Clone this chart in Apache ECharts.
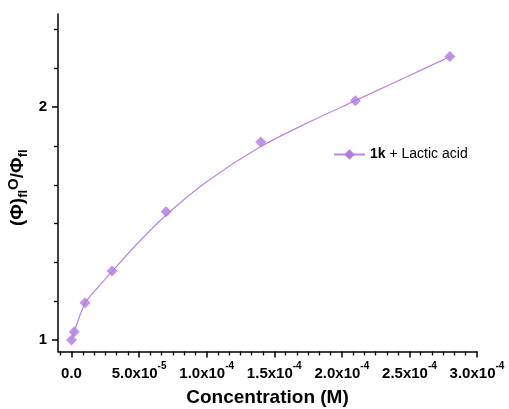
<!DOCTYPE html>
<html>
<head>
<meta charset="utf-8">
<script src="https://cdn.jsdelivr.net/npm/echarts@6/dist/echarts.min.js"></script>
<style>html,body{margin:0;padding:0;background:#fff}#c{width:509px;height:409px}</style>
</head>
<body>
<div id="c"></div>
<script>
// measured data (concentration in M, ratio)
var concX = [0, 2e-6, 1e-5, 3e-5, 7e-5, 1.4e-4, 2.1e-4, 2.8e-4];
var ratioY = [1.0, 1.036, 1.16, 1.297, 1.551, 1.85, 2.028, 2.217];
// fitted curve
var fitX = [0, 2e-6, 1e-5, 2e-5, 3e-5, 5e-5, 7e-5, 1e-4, 1.4e-4, 1.75e-4, 2.1e-4, 2.45e-4, 2.8e-4];
var fitY = [1.0, 1.036, 1.158, 1.229, 1.295, 1.422, 1.537, 1.68, 1.831, 1.934, 2.028, 2.122, 2.217];
// tick labels
var xTickVals = [0, 5e-5, 1e-4, 1.5e-4, 2e-4, 2.5e-4, 3e-4];
var xTickMant = ['0.0', '5.0', '1.0', '1.5', '2.0', '2.5', '3.0'];
var xTickExp = ['', '-5', '-4', '-4', '-4', '-4', '-4'];
var yTickVals = [1, 2];
var yTickText = ['1', '2'];

var FONT = 'Arial, "Liberation Sans", Helvetica, sans-serif';
var xMin = -1e-5, xMax = 3e-4, yMin = 0.951, yMax = 2.40;

var xMinor = [];
for (var i = -1; i <= 36; i++) { var v = i * 5e-5 / 6; if (v >= xMin && v <= xMax && i % 6 !== 0) xMinor.push(v); }
var yMinor = [];
for (var j = 0; j <= 12; j++) { var w = 1 + j / 6; if (w >= yMin && w <= yMax && j % 6 !== 0) yMinor.push(w); }

var pts = concX.map(function (x, k) { return [x, ratioY[k]]; });
var fit = fitX.map(function (x, k) { return [x, fitY[k]]; });

var axisLineStyle = { color: '#000', width: 1.5 };

var chart = echarts.init(document.getElementById('c'));
chart.setOption({
  animation: false,
  backgroundColor: '#fff',
  grid: { left: 58, right: 32, top: 14, bottom: 57.5, containLabel: false, outerBoundsMode: 'none' },
  legend: {
    left: 333, top: 147.5, padding: 0,
    itemWidth: 31, itemHeight: 13,
    data: ['1k + Lactic acid'],
    formatter: function () { return '{b|1k} + Lactic acid'; },
    textStyle: {
      fontFamily: FONT, fontSize: 14, color: '#000',
      rich: { b: { fontFamily: FONT, fontSize: 14, fontWeight: 'bold', color: '#000' } }
    }
  },
  xAxis: [{
    type: 'value', min: xMin, max: xMax,
    name: 'Concentration (M)', nameLocation: 'middle', nameGap: 37, nameMoveOverlap: false,
    nameTextStyle: { fontFamily: FONT, fontSize: 19, fontWeight: 'bold', color: '#000' },
    axisLine: { show: true, onZero: false, lineStyle: axisLineStyle },
    axisTick: { show: true, customValues: xTickVals, length: 6, lineStyle: { color: '#000', width: 1.5 } },
    splitLine: { show: false },
    axisLabel: {
      customValues: xTickVals, margin: 10, showMinLabel: true, showMaxLabel: true,
      formatter: function (v) {
        var k = xTickVals.findIndex(function (t) { return Math.abs(t - v) < 1e-12; });
        if (k < 0) return '';
        return xTickExp[k] ? '{m|' + xTickMant[k] + 'x10}{s|' + xTickExp[k] + '}' : '{m|' + xTickMant[k] + '}';
      },
      rich: {
        m: { fontFamily: FONT, fontSize: 15, fontWeight: 'bold', color: '#000', lineHeight: 20, verticalAlign: 'bottom' },
        s: { fontFamily: FONT, fontSize: 10, fontWeight: 'bold', color: '#000', lineHeight: 20, verticalAlign: 'top' }
      }
    }
  }, {
    type: 'value', min: xMin, max: xMax, position: 'bottom',
    axisLine: { show: false, onZero: false }, axisLabel: { show: false }, splitLine: { show: false },
    axisTick: { show: true, customValues: xMinor, length: 4, lineStyle: { color: '#000', width: 1.3 } }
  }],
  yAxis: [{
    type: 'value', min: yMin, max: yMax,
    name: '{m|(Φ)}{sb|fl}{sp|O}{m|/Φ}{sb|fl}', nameLocation: 'middle', nameGap: 28, nameRotate: 90,
    nameMoveOverlap: false,
    nameTextStyle: {
      color: '#000', padding: [0, 10, 0, 0],
      rich: {
        m: { fontFamily: FONT, fontSize: 19, fontWeight: 'bold', color: '#000', lineHeight: 24, verticalAlign: 'middle' },
        sb: { fontFamily: FONT, fontSize: 13, fontWeight: 'bold', color: '#000', lineHeight: 24, verticalAlign: 'bottom' },
        sp: { fontFamily: FONT, fontSize: 15, fontWeight: 'bold', color: '#000', lineHeight: 24, verticalAlign: 'top' }
      }
    },
    axisLine: { show: true, onZero: false, lineStyle: axisLineStyle },
    axisTick: { show: true, customValues: yTickVals, length: 6, lineStyle: { color: '#000', width: 1.5 } },
    splitLine: { show: false },
    axisLabel: {
      customValues: yTickVals, margin: 11,
      formatter: function (v) {
        var k = yTickVals.findIndex(function (t) { return Math.abs(t - v) < 1e-9; });
        return k < 0 ? '' : yTickText[k];
      },
      fontFamily: FONT, fontSize: 15, fontWeight: 'bold', color: '#000'
    }
  }, {
    type: 'value', min: yMin, max: yMax, position: 'left',
    axisLine: { show: false, onZero: false }, axisLabel: { show: false }, splitLine: { show: false },
    axisTick: { show: true, customValues: yMinor, length: 4, lineStyle: { color: '#000', width: 1.3 } }
  }],
  series: [{
    name: '1k + Lactic acid', type: 'line', data: fit, smooth: 0.3,
    symbol: 'diamond', showSymbol: false, symbolSize: 10,
    lineStyle: { color: '#b888e4', width: 1.3 },
    itemStyle: { color: '#b27be0' },
    z: 2
  }, {
    name: 'points', type: 'scatter', data: pts,
    symbol: 'diamond', symbolSize: 11,
    itemStyle: { color: '#b27be0' },
    z: 3
  }]
});
</script>
</body>
</html>
